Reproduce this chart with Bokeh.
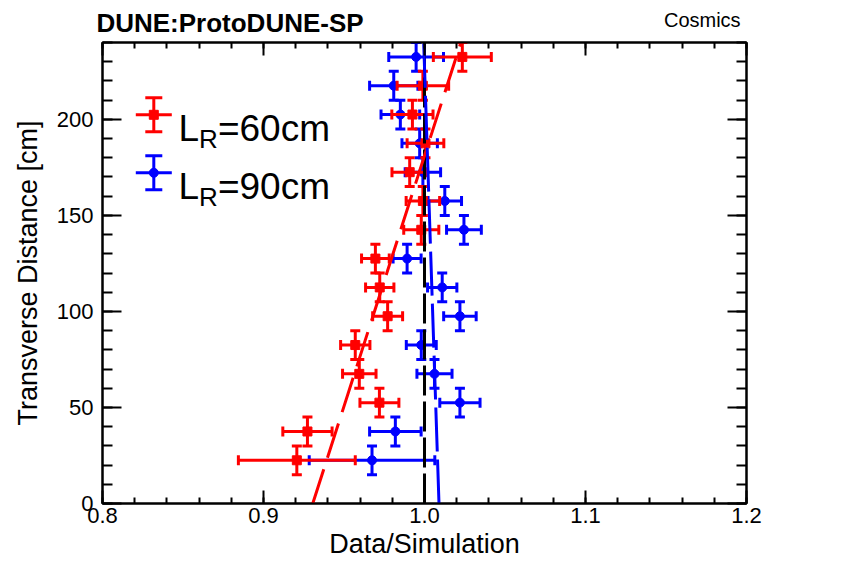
import math
from bokeh.plotting import figure
from bokeh.layouts import column
from bokeh.models import (ColumnDataSource, FixedTicker, LinearAxis, Label,
                          Range1d, CustomJSTickFormatter, Div)
from bokeh.embed import file_html
from bokeh.resources import INLINE

# ---------------- data ----------------
distance = [22.5, 37.5, 52.5, 67.5, 82.5, 97.5, 112.5, 127.5,
            142.5, 157.5, 172.5, 187.5, 202.5, 217.5, 232.5]
distance_err = [7.5] * 15

ratio_60 = [0.9207, 0.9273, 0.9720, 0.9595, 0.9570, 0.9771, 0.9722, 0.9695,
            0.9980, 0.9990, 0.9908, 1.0006, 0.9925, 0.9990, 1.0235]
ratio_60_err = [0.0363, 0.0153, 0.0121, 0.0104, 0.0091, 0.0093, 0.0088, 0.0086,
                0.0109, 0.0104, 0.0110, 0.0114, 0.0128, 0.0160, 0.0180]

ratio_90 = [0.9674, 0.9819, 1.0220, 1.0062, 0.9980, 1.0220, 1.0110, 0.9892,
            1.0245, 1.0126, 0.9990, 0.9970, 0.9850, 0.9809, 0.9948]
ratio_90_err = [0.0390, 0.0160, 0.0125, 0.0109, 0.0093, 0.0101, 0.0091, 0.0087,
                0.0108, 0.0104, 0.0110, 0.0110, 0.0120, 0.0150, 0.0170]

fit_y = [0.0, 240.0]
fit_60_x = [0.9306, 1.0226]
fit_90_x = [1.0090, 0.9995]
unity_x = [1.0, 1.0]

x_ticks = [0.8, 0.9, 1.0, 1.1, 1.2]
x_tick_labels = ["0.8", "0.9", "1.0", "1.1", "1.2"]
y_ticks = [0, 50, 100, 150, 200]
y_tick_labels = ["0", "50", "100", "150", "200"]

series_labels = ["=60cm", "=90cm"]
title_text = "DUNE:ProtoDUNE-SP"
tag_text = "Cosmics"

# ---------------- layout ----------------
X0, X1 = 0.8, 1.2
Y0, Y1 = 0.0, 240.0
W = 845
HEAD = 40                      # header strip height (page px)
FL, FT, FW, FH = 102, 42, 644, 461   # frame in page pixels
H = 530                        # main figure height

FONT = "Liberation Sans"
RED = "#ff0000"
BLUE = "#0000ff"


def fx(px):  # page pixel -> data x
    return X0 + (px - FL) / FW * (X1 - X0)


def fy(py):  # page pixel -> data y
    return Y1 - (py - FT) / FH * (Y1 - Y0)


# ---------------- header strip with the two titles ----------------
span = "position:absolute;white-space:nowrap;color:black;font-family:'Liberation Sans';"
head_html = (
    f'<div style="position:relative;width:{W}px;height:{HEAD}px;margin:0;padding:0;">'
    f'<span style="{span}left:96.4px;top:10.3px;font-weight:bold;'
    f'font-size:26px;line-height:26px;">{title_text}</span>'
    f'<span style="{span}right:104.4px;top:10.4px;font-weight:normal;'
    f'font-size:20px;line-height:20px;">{tag_text}</span>'
    f'</div>')
head = Div(text=head_html, width=W, height=HEAD, margin=0)

# ---------------- main plot ----------------
p = figure(width=W, height=H, x_range=Range1d(X0, X1), y_range=Range1d(Y0, Y1),
           output_backend="svg", toolbar_location=None,
           min_border_left=FL, min_border_right=W - FL - FW,
           min_border_top=FT - HEAD, min_border_bottom=H - (FT - HEAD) - FH,
           x_axis_label="Data/Simulation",
           y_axis_label="Transverse Distance [cm]")
p.xgrid.visible = False
p.ygrid.visible = False
p.outline_line_color = "black"
p.outline_line_width = 2
p.background_fill_color = "white"
p.border_fill_color = "white"

xminor = [round(0.8 + 0.02 * i, 4) for i in range(21)]
yminor = [10 * i for i in range(25)]


def style(ax, horizontal, labels):
    ax.axis_line_width = 2
    ax.axis_line_color = "black"
    ax.major_tick_line_width = 2
    ax.minor_tick_line_width = 2
    ax.major_tick_out = 0
    ax.minor_tick_out = 0
    if horizontal:
        ax.major_tick_in = 13
        ax.minor_tick_in = 6
    else:
        ax.major_tick_in = 19
        ax.minor_tick_in = 10
    ax.major_label_text_font = FONT
    ax.major_label_text_font_size = "22px"
    ax.major_label_text_color = "black"
    ax.axis_label_text_font = FONT
    ax.axis_label_text_font_size = "27px"
    ax.axis_label_text_font_style = "normal"
    ax.axis_label_text_color = "black"
    if not labels:
        ax.formatter = CustomJSTickFormatter(code="return ''")
        ax.major_label_text_font_size = "0px"
        ax.major_label_standoff = 0


xa = p.xaxis[0]
xa.ticker = FixedTicker(ticks=x_ticks, minor_ticks=xminor)
xa.major_label_overrides = {t: s for t, s in zip(x_ticks, x_tick_labels)}
style(xa, True, True)
xa.major_label_standoff = 4
xa.axis_label_standoff = 3

ya = p.yaxis[0]
ya.ticker = FixedTicker(ticks=y_ticks, minor_ticks=yminor)
ya.major_label_overrides = {t: s for t, s in zip(y_ticks, y_tick_labels)}
style(ya, False, True)
ya.major_label_standoff = 9
ya.axis_label_standoff = 11

top = LinearAxis(ticker=FixedTicker(ticks=x_ticks, minor_ticks=xminor))
style(top, True, False)
p.add_layout(top, "above")
right = LinearAxis(ticker=FixedTicker(ticks=y_ticks, minor_ticks=yminor))
style(right, False, False)
p.add_layout(right, "right")


def draw_points(xs, xe, ys, ye, color, marker):
    src = ColumnDataSource(dict(
        x=xs, y=ys,
        xl=[a - b for a, b in zip(xs, xe)], xr=[a + b for a, b in zip(xs, xe)],
        yl=[a - b for a, b in zip(ys, ye)], yh=[a + b for a, b in zip(ys, ye)]))
    p.segment(x0="xl", y0="y", x1="xr", y1="y", line_color=color, line_width=3, source=src)
    p.segment(x0="x", y0="yl", x1="x", y1="yh", line_color=color, line_width=3, source=src)
    for c in ("xl", "xr"):
        p.scatter(x=c, y="y", marker="dash", angle=math.pi / 2, size=10,
                  line_color=color, line_width=3, source=src)
    for c in ("yl", "yh"):
        p.scatter(x="x", y=c, marker="dash", size=10,
                  line_color=color, line_width=3, source=src)
    p.scatter(x="x", y="y", marker=marker, size=9, fill_color=color,
              line_color=color, source=src)


draw_points(ratio_90, ratio_90_err, distance, distance_err, BLUE, "circle")
draw_points(ratio_60, ratio_60_err, distance, distance_err, RED, "square")

p.line(unity_x, fit_y, line_color="black", line_width=3, line_dash="30 6")
p.line(fit_60_x, fit_y, line_color=RED, line_width=3, line_dash="36 12")
p.line(fit_90_x, fit_y, line_color=BLUE, line_width=3, line_dash="44 8")

# ---------------- legend (drawn by hand, ROOT style) ----------------
for i, (color, marker, lab) in enumerate([(RED, "square", series_labels[0]),
                                          (BLUE, "circle", series_labels[1])]):
    cy = 114.3 + 58 * i
    cx = 153.3
    p.segment(x0=[fx(cx - 18)], y0=[fy(cy)], x1=[fx(cx + 18)], y1=[fy(cy)],
              line_color=color, line_width=3)
    p.segment(x0=[fx(cx)], y0=[fy(cy - 17)], x1=[fx(cx)], y1=[fy(cy + 17)],
              line_color=color, line_width=3)
    p.scatter(x=[fx(cx), fx(cx)], y=[fy(cy - 17), fy(cy + 17)], marker="dash",
              size=17, line_color=color, line_width=3)
    p.scatter(x=[fx(cx)], y=[fy(cy)], marker=marker, size=9,
              fill_color=color, line_color=color)
    base = 127.7 + 58 * i
    p.add_layout(Label(x=fx(178), y=fy(base), text="L", text_font=FONT,
                       text_font_size="37px", text_color="black",
                       text_baseline="alphabetic"))
    p.add_layout(Label(x=fx(198.6), y=fy(base + 10.6), text="R", text_font=FONT,
                       text_font_size="26px", text_color="black",
                       text_baseline="alphabetic"))
    p.add_layout(Label(x=fx(217.4), y=fy(base), text=lab, text_font=FONT,
                       text_font_size="37px", text_color="black",
                       text_baseline="alphabetic"))

layout = column(head, p, spacing=0)
open("out.html", "w").write(file_html(layout, INLINE))
